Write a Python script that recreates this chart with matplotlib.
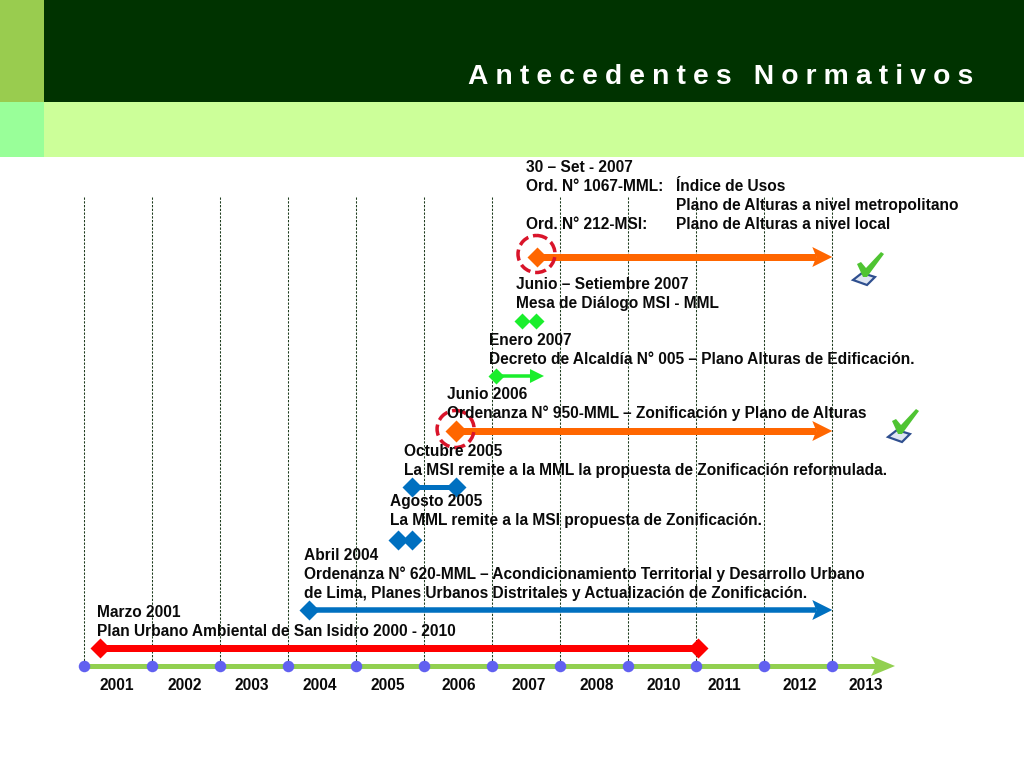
import matplotlib
matplotlib.use("Agg")
import matplotlib.pyplot as plt
from matplotlib.patches import Rectangle, Polygon, Ellipse

plt.rcParams['font.family'] = ['Liberation Sans', 'DejaVu Sans']

# timeline values, in year-slot units (2001.0 = first dot on the axis)
year_ticks = [2001, 2002, 2003, 2004, 2005, 2006, 2007, 2008, 2009, 2010, 2011, 2012]
year_labels = ['2001', '2002', '2003', '2004', '2005', '2006', '2007', '2008', '2010', '2011', '2012', '2013']
year_label_x = [2001.48, 2002.48, 2003.46, 2004.46, 2005.46, 2006.51, 2007.54, 2008.54, 2009.52, 2010.41, 2011.52, 2012.49]

red_span = [2001.23, 2010.03]
blue_long_span = [2004.30, 2012.0]
blue_pair = [2005.61, 2005.82]
blue_short_span = [2005.82, 2006.46]
orange_2006_span = [2006.46, 2012.0]
green_span = [2007.05, 2007.76]
green_pair = [2007.44, 2007.64]
orange_2007_span = [2007.65, 2012.0]

notes = [
    ('Marzo 2001', 97, 617),
    ('Plan Urbano Ambiental de San Isidro 2000 - 2010', 97, 636),
    ('Abril 2004', 304, 560),
    ('Ordenanza N° 620-MML – Acondicionamiento Territorial y Desarrollo Urbano', 304, 579),
    ('de Lima, Planes Urbanos Distritales y Actualización de Zonificación.', 304, 598),
    ('Agosto 2005', 390, 506),
    ('La MML remite a la MSI propuesta de Zonificación.', 390, 525),
    ('Octubre 2005', 404, 456),
    ('La MSI remite a la MML la propuesta de Zonificación reformulada.', 404, 475),
    ('Junio 2006', 447, 399),
    ('Ordenanza N° 950-MML – Zonificación y Plano de Alturas', 447, 418),
    ('Enero 2007', 489, 345),
    ('Decreto de Alcaldía N° 005 – Plano Alturas de Edificación.', 489, 364),
    ('Junio – Setiembre 2007', 516, 289),
    ('Mesa de Diálogo MSI - MML', 516, 308),
    ('30 – Set - 2007', 526, 172),
    ('Ord. N° 1067-MML:', 526, 191),
    ('Índice de Usos', 676, 191),
    ('Plano de Alturas a nivel metropolitano', 676, 210),
    ('Ord. N° 212-MSI:', 526, 229),
    ('Plano de Alturas a nivel local', 676, 229),
]

px = 72 / 100  # points per pixel at this dpi
slot = 68.0    # pixels per year slot
x0 = 84.3


def to_year(p):
    return 2001 + (p - x0) / slot


def to_pixel(y):
    return (y - 2001) * slot + x0


fig = plt.figure(figsize=(10.24, 7.68), dpi=100)
ax = fig.add_axes([0, 0, 1, 1])
ax.set_xlim(to_year(0), to_year(1024))
ax.set_ylim(768, 0)
ax.axis('off')

# header blocks
for x, y, w, h, c in [(0, 0, 44, 102, '#99cc4f'), (44, 0, 980, 102, '#003300'),
                      (0, 102, 44, 55, '#99ff99'), (44, 102, 980, 55, '#ccff99')]:
    ax.add_patch(Rectangle((to_year(x), y), w / slot, h, fc=c, ec='none', zorder=1))
gap = '\u2005'
title = (gap + ' ' + gap).join(gap.join(word) for word in ['Antecedentes', 'Normativos'])
ax.text(to_year(973), 83.5, title, color='white', fontsize=20.3, fontweight='bold',
        ha='right', va='baseline', zorder=5)


def arrow(span, y, color, lw, head_len=20, head_half=10, notch=4):
    tip = to_pixel(span[1])
    ax.plot([span[0], to_year(tip - head_len + notch)], [y, y], color=color,
            lw=lw * px, solid_capstyle='butt', zorder=3)
    head = [(tip, y), (tip - head_len, y - head_half), (tip - head_len + notch, y),
            (tip - head_len, y + head_half)]
    ax.add_patch(Polygon([(to_year(a), b) for a, b in head], fc=color, ec='none', zorder=3))


def diamonds(xs, y, color, width):
    ax.plot(xs, [y] * len(xs), ls='none', marker='D', color=color, mec='none',
            ms=width / 1.414 * px, zorder=4)


def ring(x, y):
    ax.add_patch(Ellipse((x, y), 37 / slot, 37, fc='none', ec='#d9142a', lw=3.5 * px,
                         ls=(0, (3.2, 1.4)), zorder=4))


def check(cx, cy):
    box = [(-15, 12), (-6, 5), (7, 9), (-1, 17)]
    ax.add_patch(Polygon([(to_year(cx + a), cy + b) for a, b in box], fc='#dfe6f2', ec='#2f4f8f',
                         lw=2.2 * px, zorder=3))
    tick = [(-11, -4), (-7, -6), (-2, 0), (13, -16), (16, -14), (-1, 9), (-5, 9)]
    ax.add_patch(Polygon([(to_year(cx + a), cy + b) for a, b in tick], fc='#4fc432', ec='none', zorder=4))


# dashed year lines
for y in year_ticks:
    ax.plot([y, y], [197, 665], color='#1f3d1f', lw=0.75, ls=(0, (2.2, 1.4)), zorder=2)

# base axis
arrow([2001, to_year(895)], 666, '#92d050', 5, head_len=24, head_half=10, notch=5)
ax.plot(year_ticks, [666] * len(year_ticks), ls='none', marker='o', ms=11.5 * px,
        color='#6161f0', mec='none', zorder=4)

# events
ax.plot(red_span, [648, 648], color='#ff0000', lw=7 * px, solid_capstyle='butt', zorder=3)
diamonds(red_span, 648, '#ff0000', 19)
arrow(blue_long_span, 610, '#0070c0', 5.5)
diamonds(blue_long_span[:1], 610, '#0070c0', 20)
diamonds(blue_pair, 540, '#0070c0', 20)
ax.plot(blue_short_span, [487, 487], color='#0070c0', lw=5 * px, solid_capstyle='butt', zorder=3)
diamonds(blue_short_span, 487, '#0070c0', 20)
arrow(orange_2006_span, 431, '#ff6600', 7)
diamonds(orange_2006_span[:1], 431, '#ff6600', 22)
ring(orange_2006_span[0], 429)
arrow(green_span, 376, '#1aee2c', 3.5, head_len=14, head_half=7, notch=0)
diamonds(green_span[:1], 376, '#1aee2c', 15)
diamonds(green_pair, 321, '#1aee2c', 15)
arrow(orange_2007_span, 257, '#ff6600', 7)
diamonds(orange_2007_span[:1], 257, '#ff6600', 20)
ring(orange_2007_span[0], 254)
check(868, 268)
check(903, 425)

# text
for s, x, y in notes:
    ax.text(to_year(x), y, s, fontsize=11.2, fontweight='bold', color='#0a0a0a',
            ha='left', va='baseline', zorder=6)
for lab, x in zip(year_labels, year_label_x):
    ax.text(x, 689.5, lab, fontsize=11.2, fontweight='bold', color='#0a0a0a',
            ha='center', va='baseline', zorder=6)

fig.savefig('out.png', dpi=100)
